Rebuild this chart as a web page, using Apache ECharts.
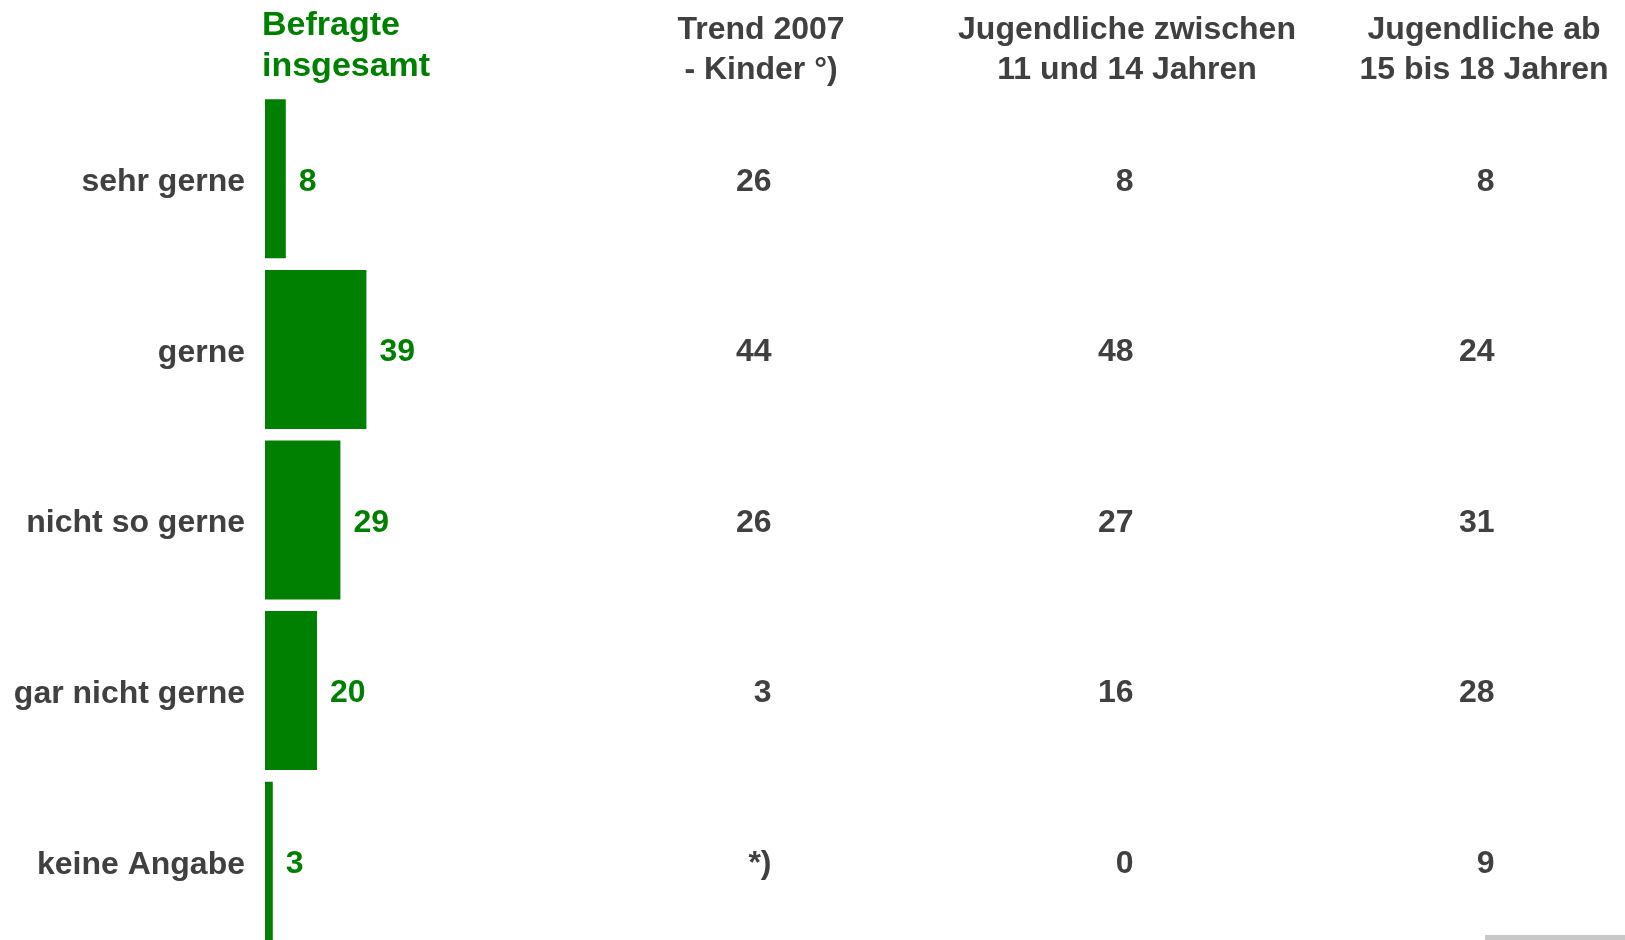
<!DOCTYPE html>
<html>
<head>
<meta charset="utf-8">
<script src="https://cdn.jsdelivr.net/npm/echarts@6/dist/echarts.min.js"></script>
<style>
  html, body { margin: 0; padding: 0; background: #fff; }
  #chart { width: 1625px; height: 940px; }
</style>
</head>
<body>
<div id="chart"></div>
<script>
// Daten
const categories = ["sehr gerne", "gerne", "nicht so gerne", "gar nicht gerne", "keine Angabe"];
const befragteInsgesamt = [8, 39, 29, 20, 3];
const trend2007Kinder = ["26", "44", "26", "3", "*)"];
const jugendliche11bis14 = ["8", "48", "27", "16", "0"];
const jugendliche15bis18 = ["8", "24", "31", "28", "9"];
const columnHeaders = ["Trend 2007\n- Kinder °)", "Jugendliche zwischen\n11 und 14 Jahren", "Jugendliche ab\n15 bis 18 Jahren"];

const GREEN = "#008000";
const GRAY = "#404040";
const FONT = "'Liberation Sans', Arial, sans-serif";

const chart = echarts.init(document.getElementById("chart"));

// Rechte Spalten: je ein eigenes Grid, Text rechtsbündig
const columns = [trend2007Kinder, jugendliche11bis14, jugendliche15bis18];
const columnRight = [772, 1134, 1495];
const columnCenter = [761, 1127, 1484];
const gridTop = 93.5;
const gridHeight = 853;

const grids = [{ left: 265, width: 260, top: gridTop, height: gridHeight, outerBoundsMode: "none", containLabel: false }];
const xAxes = [{ type: "value", min: 0, max: 100, show: false, gridIndex: 0 }];
const yAxes = [{
  type: "category",
  data: categories,
  inverse: true,
  gridIndex: 0,
  axisLine: { show: false },
  axisTick: { show: false },
  axisLabel: {
    margin: 20,
    formatter: (v) => "{c|" + v + "}",
    rich: {
      c: { color: GRAY, fontSize: 32, fontWeight: "bold", fontFamily: FONT, padding: [7, 0, 0, 0] }
    }
  }
}];
const series = [{
  type: "bar",
  xAxisIndex: 0,
  yAxisIndex: 0,
  data: befragteInsgesamt,
  barWidth: 159,
  itemStyle: { color: GREEN },
  label: {
    show: true,
    position: "right",
    distance: 13,
    offset: [0, 3],
    color: GREEN,
    fontSize: 32,
    fontWeight: "bold",
    fontFamily: FONT
  },
  silent: true
}];

columns.forEach((col, k) => {
  const g = k + 1;
  grids.push({ left: columnRight[k] - 10, width: 10, top: gridTop, height: gridHeight, outerBoundsMode: "none", containLabel: false });
  xAxes.push({ type: "value", min: 0, max: 1, show: false, gridIndex: g });
  yAxes.push({ type: "category", data: categories, inverse: true, show: false, gridIndex: g });
  series.push({
    type: "scatter",
    xAxisIndex: g,
    yAxisIndex: g,
    symbolSize: 1,
    itemStyle: { color: "rgba(0,0,0,0)", opacity: 1 },
    data: col.map((v, i) => ({ value: [1, i], name: v })),
    label: {
      show: true,
      position: "left",
      distance: 0,
      offset: [0, 3],
      formatter: (p) => p.name,
      color: GRAY,
      opacity: 1,
      fontSize: 32,
      fontWeight: "bold",
      fontFamily: FONT
    },
    silent: true
  });
});

const headerGraphics = [{
  type: "text",
  x: 262,
  y: 46,
  style: {
    text: "Befragte\ninsgesamt",
    fill: GREEN,
    font: "bold 34px " + FONT,
    lineHeight: 41,
    textAlign: "left",
    textVerticalAlign: "middle"
  }
}];
columnHeaders.forEach((h, k) => {
  headerGraphics.push({
    type: "text",
    x: columnCenter[k],
    y: 50,
    style: {
      text: h,
      fill: GRAY,
      font: "bold 32px " + FONT,
      lineHeight: 40,
      textAlign: "center",
      textVerticalAlign: "middle"
    }
  });
});
headerGraphics.push({
  type: "rect",
  shape: { x: 1485, y: 935, width: 140, height: 5 },
  style: { fill: "#c8c8c8" }
});

chart.setOption({
  animation: false,
  grid: grids,
  xAxis: xAxes,
  yAxis: yAxes,
  series: series,
  graphic: headerGraphics
});

window.addEventListener("resize", () => chart.resize());
</script>
</body>
</html>
